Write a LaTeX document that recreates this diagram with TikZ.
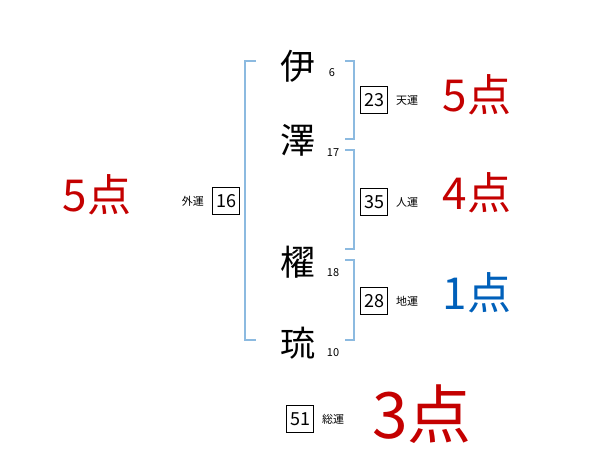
\documentclass[tikz,border=0pt]{standalone}
\usepackage{fontspec}
\usetikzlibrary{positioning}
\newfontfamily\jp{Noto Sans CJK JP}
\definecolor{pointred}{RGB}{196,0,0}
\definecolor{pointblue}{RGB}{0,96,186}
\definecolor{bracketblue}{RGB}{140,186,224}
\tikzset{
  kanji/.style={font=\jp\fontsize{35}{35}\selectfont},
  strokes/.style={font=\jp\fontsize{11}{11}\selectfont},
  unsei/.style={draw,inner sep=0pt,minimum size=27pt,font=\jp\fontsize{18}{18}\selectfont},
  unseilabel/.style={font=\jp\fontsize{11}{11}\selectfont},
  score/.style={font=\jp\fontsize{44}{44}\selectfont},
  bracket/.style={draw=bracketblue,line width=1.4pt}
}
\begin{document}
\begin{tikzpicture}[x=1pt,y=-1pt]
            \useasboundingbox (0,0) rectangle (600,470);

            % name characters with stroke counts
            \node[kanji] (c1) at (298,66) {伊};
            \node[kanji] (c2) at (298,140) {澤};
            \node[kanji] (c3) at (298,262) {櫂};
            \node[kanji] (c4) at (298,343) {琉};
            \node[strokes] (s1) at (332,73) {6};
            \node[strokes] (s2) at (333,153) {17};
            \node[strokes] (s3) at (333,273) {18};
            \node[strokes] (s4) at (333,353) {10};

            % brackets
            \draw[bracket] (256,61) -- (245,61) -- (245,340) -- (256,340);
            \draw[bracket] (345,61) -- (354,61) -- (354,139) -- (345,139);
            \draw[bracket] (345,150) -- (354,150) -- (354,249) -- (345,249);
            \draw[bracket] (345,260) -- (354,260) -- (354,340) -- (345,340);

            % unsei boxes
            \node[unsei] (ten) at (374,100) {23};
            \node[unseilabel,right=5pt of ten] (tenl) {天運};
            \node[unsei] (jin) at (374,202) {35};
            \node[unseilabel,right=5pt of jin] (jinl) {人運};
            \node[unsei] (chi) at (374,301) {28};
            \node[unseilabel,right=5pt of chi] (chil) {地運};
            \node[unsei] (gai) at (226,201) {16};
            \node[unseilabel,left=5pt of gai] (gail) {外運};
            \node[unsei] (sou) at (300,419) {51};
            \node[unseilabel,right=5pt of sou] (soul) {総運};

            % scores
            \node[score,text=pointred] (p1) at (477,95) {5点};
            \node[score,text=pointred] (p2) at (477,193) {4点};
            \node[score,text=pointblue] (p3) at (477,293) {1点};
            \node[score,text=pointred] (p4) at (97,195) {5点};
            \node[score,text=pointred,font=\jp\fontsize{64}{64}\selectfont] (p5) at (422,414) {3点};

        \end{tikzpicture}
\end{document}
